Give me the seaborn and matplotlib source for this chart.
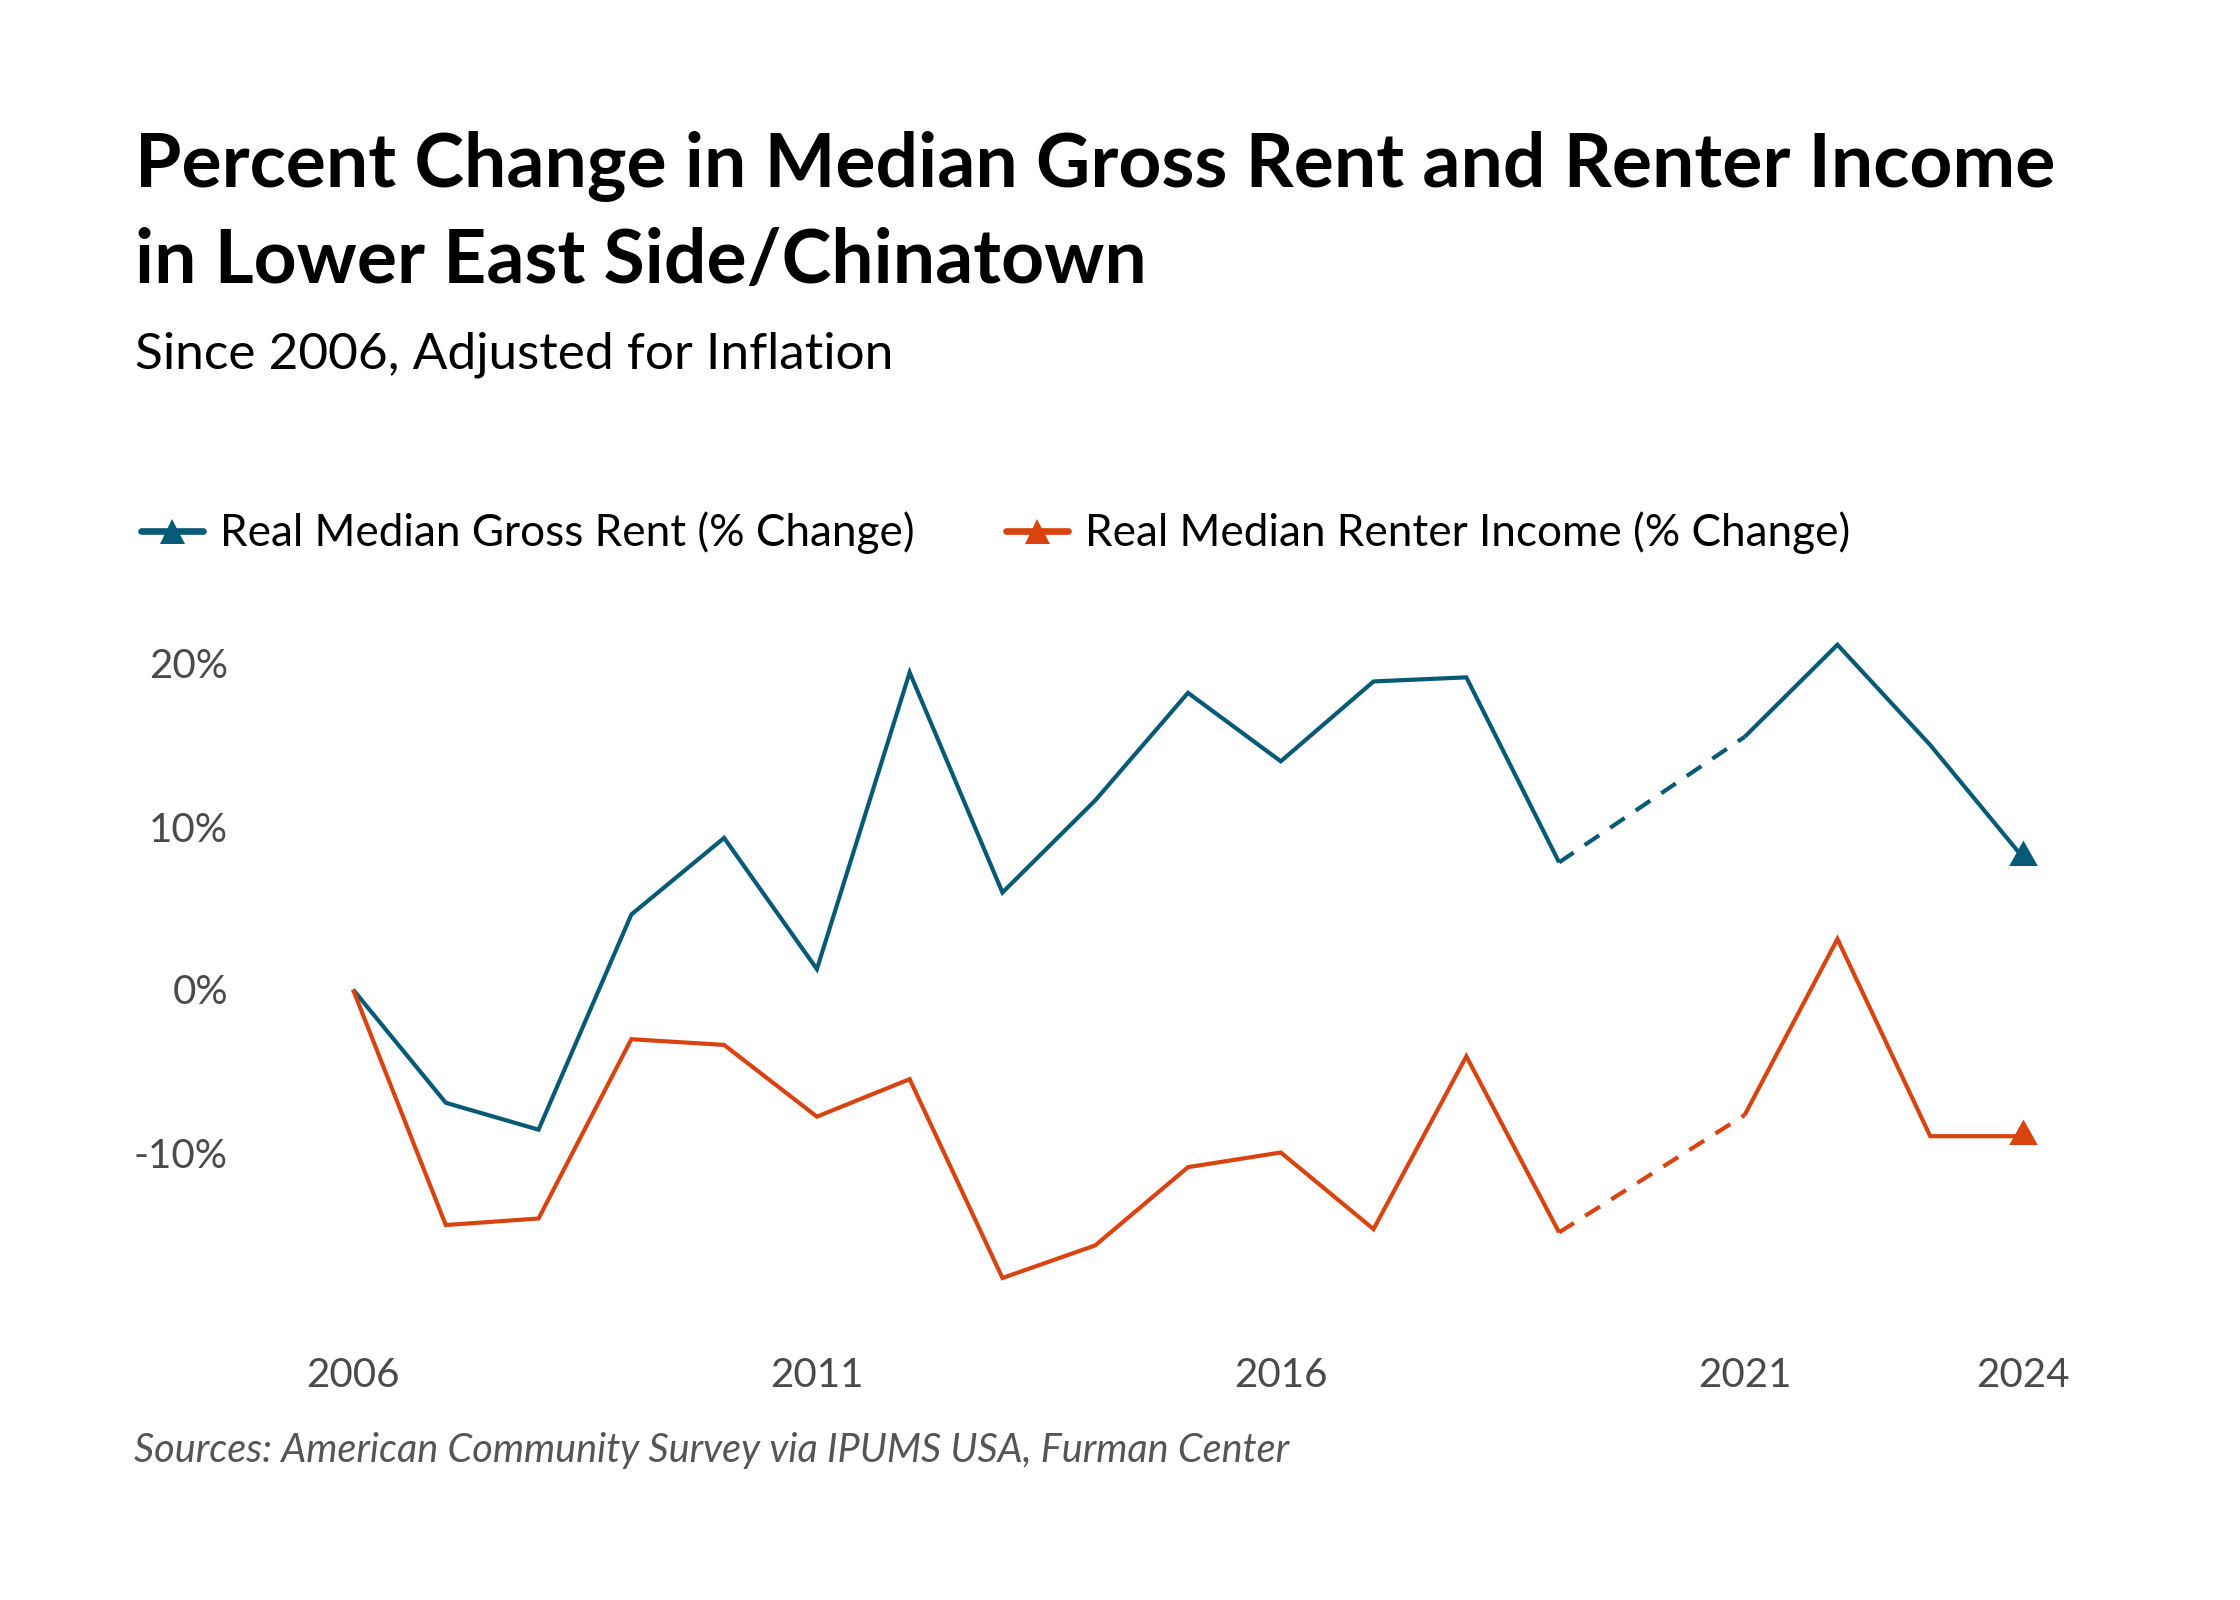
import numpy as np
import pandas as pd
import matplotlib
matplotlib.use("Agg")
import matplotlib.pyplot as plt
from matplotlib.lines import Line2D
import seaborn as sns

# ---------------- data ----------------
years = [2006, 2007, 2008, 2009, 2010, 2011, 2012, 2013, 2014, 2015,
         2016, 2017, 2018, 2019, 2020, 2021, 2022, 2023, 2024]
rent_change = [0.0, -6.95, -8.6, 4.6, 9.3, 1.25, 19.45, 5.95, 11.6, 18.2,
               14.0, 18.9, 19.15, 7.8, np.nan, 15.5, 21.15, 15.0, 8.1]
income_change = [0.0, -14.45, -14.05, -3.05, -3.4, -7.8, -5.5, -17.7, -15.7, -10.9,
                 -10.0, -14.7, -4.1, -14.9, np.nan, -7.7, 3.1, -9.0, -9.0]
series_names = ["Real Median Gross Rent (% Change)", "Real Median Renter Income (% Change)"]
y_ticks = [-10, 0, 10, 20]
x_ticks = [2006, 2011, 2016, 2021, 2024]

title_lines = ["Percent Change in Median Gross Rent and Renter Income",
               "in Lower East Side/Chinatown"]
subtitle = "Since 2006, Adjusted for Inflation"
source = "Sources: American Community Survey via IPUMS USA, Furman Center"

BLUE = "#075a75"
ORANGE = "#d9430f"
colors = [BLUE, ORANGE]

df = pd.DataFrame({"year": years * 2,
                   "value": rent_change + income_change,
                   "series": [series_names[0]] * len(years) + [series_names[1]] * len(years)})

# ---------------- figure ----------------
sns.set_theme(style="white")
plt.rcParams["font.family"] = ["Lato", "DejaVu Sans"]

W, H = 2240, 1600
fig = plt.figure(figsize=(11.2, 8), dpi=200)
x0, x1 = 353, 2023
ymax, ymin = 22, -20
zero_px, per_pct = 989.5, 16.3
top_px = zero_px - ymax * per_pct
bot_px = zero_px - ymin * per_pct
ax = fig.add_axes([x0 / W, 1 - bot_px / H, (x1 - x0) / W, (bot_px - top_px) / H])

lw = 1.5
# triangle with centroid at origin
tri = [(0, 2), (-1.68, -1), (1.68, -1), (0, 2)]

for name, col in zip(series_names, colors):
    s = df[df["series"] == name].dropna()
    before = s[s["year"] <= 2019]
    after = s[s["year"] >= 2021]
    gap = s[(s["year"] >= 2019) & (s["year"] <= 2021)]
    sns.lineplot(data=before, x="year", y="value", color=col, lw=lw, ax=ax,
                 estimator=None, sort=True, legend=False)
    sns.lineplot(data=after, x="year", y="value", color=col, lw=lw, ax=ax,
                 estimator=None, sort=True, legend=False)
    sns.lineplot(data=gap, x="year", y="value", color=col, lw=lw, ax=ax,
                 estimator=None, sort=True, legend=False, dashes=False)
    ax.lines[-1].set_dashes((4.2, 3.2))
    last = s[s["year"] == s["year"].max()]
    sns.scatterplot(data=last, x="year", y="value", color=col, marker=tri, s=150,
                    linewidth=0, ax=ax, legend=False, clip_on=False, zorder=5)

for ln in ax.lines:
    ln.set_solid_capstyle("butt")
    ln.set_solid_joinstyle("miter")
    ln.set_clip_on(False)

ax.set_xlim(2006, 2024)
ax.set_ylim(ymin, ymax)
ax.set_xticks(x_ticks)
ax.set_xticklabels([str(t) for t in x_ticks])
ax.set_yticks(y_ticks)
ax.set_yticklabels([f"{t}%" for t in y_ticks])
ax.tick_params(axis="y", length=0, pad=45, labelsize=14.5, labelcolor="#4a4a4a")
ax.tick_params(axis="x", length=0, pad=15, labelsize=14.5, labelcolor="#4a4a4a")
ax.set_xlabel("")
ax.set_ylabel("")
ax.grid(False)
for sp in ax.spines.values():
    sp.set_visible(False)
ax.set_facecolor("none")

# ---------------- texts ----------------
fig.text(135 / W, 1 - 187 / H, title_lines[0], fontsize=27, fontweight="bold",
         color="black", ha="left", va="baseline")
fig.text(135 / W, 1 - 283 / H, title_lines[1], fontsize=27, fontweight="bold",
         color="black", ha="left", va="baseline")
fig.text(135 / W, 1 - 369 / H, subtitle, fontsize=18.5, color="black",
         ha="left", va="baseline")
fig.text(134 / W, 1 - 1462 / H, source, fontsize=14.25, color="#555555",
         style="italic", ha="left", va="baseline")

handles = [Line2D([0], [0], color=c, lw=lw * 1.6, marker="^", markersize=9,
                  markeredgewidth=0) for c in colors]
fig.legend(handles, series_names, loc="center left",
           bbox_to_anchor=(141 / W, 1 - 533 / H), ncol=2, frameon=False,
           fontsize=15.9, handlelength=1.4, handletextpad=0.4,
           columnspacing=2.05, borderpad=0, borderaxespad=0, labelcolor="black")

fig.savefig("out.png", dpi=200, facecolor="white")
